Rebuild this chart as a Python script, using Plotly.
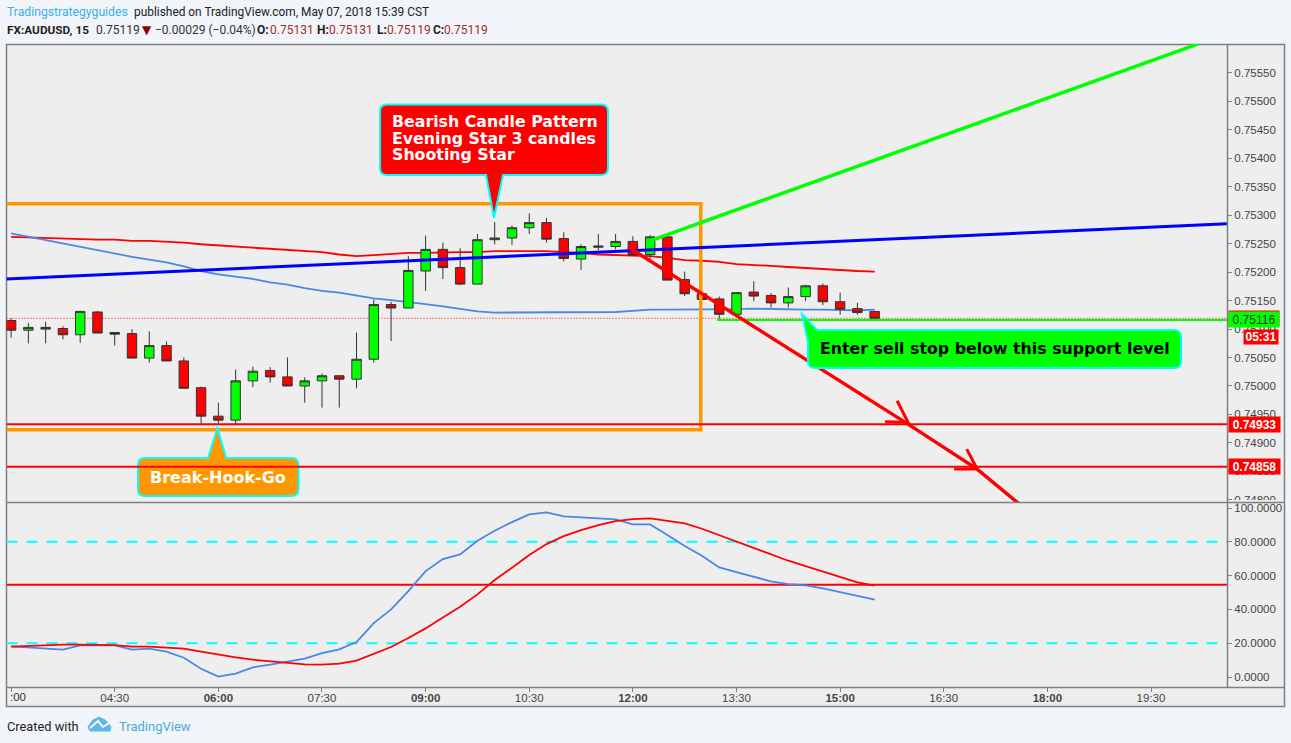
import plotly.graph_objects as go

W, H = 1291, 743

# ---------- data ----------
bar_minutes = [180 + 15 * i for i in range(51)]
opens = [.75115,.75098,.75103,.75101,.75090,.75130,.75094,.75092,.75049,.75071,
         .75044,.74997,.74947,.74940,.75009,.75027,.75016,.75000,.75009,.75018,
         .75012,.75047,.75143,.75137,.75202,.75240,.75208,.75179,.75257,.75260,
         .75278,.75287,.75259,.75223,.75246,.75245,.75254,.75231,.75262,.75187,
         .75162,.75153,.75126,.75165,.75159,.75146,.75157,.75176,.75148,.75136,.75131]
highs = [.75119,.75111,.75113,.75105,.75132,.75132,.75094,.75100,.75096,.75078,
         .75050,.74999,.74971,.75029,.75034,.75033,.75050,.75015,.75022,.75019,
         .75094,.75152,.75148,.75228,.75264,.75252,.75242,.75267,.75288,.75282,
         .75303,.75295,.75270,.75249,.75267,.75267,.75263,.75265,.75264,.75201,
         .75163,.75157,.75164,.75184,.75163,.75173,.75178,.75180,.75164,.75146,.75131]
lows = [.75085,.75075,.75075,.75082,.75076,.75093,.75071,.75049,.75041,.75044,
        .74996,.74933,.74934,.74933,.74998,.75006,.75000,.74971,.74962,.74962,
        .74996,.75041,.75079,.75137,.75167,.75188,.75177,.75179,.75249,.75248,
        .75267,.75252,.75219,.75204,.75238,.75240,.75230,.75221,.75186,.75158,
        .75152,.75118,.75125,.75149,.75138,.75138,.75149,.75142,.75125,.75125,.75119]
closes = [.75098,.75103,.75100,.75090,.75131,.75093,.75091,.75049,.75071,.75044,
          .74996,.74947,.74940,.75009,.75026,.75016,.75000,.75009,.75018,.75012,
          .75047,.75143,.75137,.75203,.75240,.75208,.75179,.75257,.75260,.75278,
          .75287,.75258,.75224,.75245,.75244,.75254,.75230,.75262,.75186,.75162,
          .75152,.75126,.75164,.75158,.75146,.75157,.75176,.75148,.75135,.75129,.75119]
ema_red = [.75262,.75261,.75259,.75259,.75258,.75257,.75257,.75255,.75255,.75254,
           .75252,.75249,.75247,.75245,.75243,.75241,.75240,.75238,.75235,.75231,
           .75228,.75230,.75232,.75234,.75234,.75235,.75235,.75235,.75237,.75237,
           .75237,.75237,.75235,.75234,.75231,.75230,.75229,.75228,.75225,.75221,
           .75220,.75218,.75214,.75213,.75211,.75209,.75207,.75206,.75204,.75202,.75201]
ema_blue = [.75268,.75262,.75257,.75251,.75245,.75239,.75233,.75227,.75222,.75217,
            .75210,.75202,.75196,.75192,.75188,.75182,.75178,.75172,.75167,.75164,
            .75159,.75154,.75151,.75148,.75144,.75140,.75135,.75131,.75129,.75129,
            .75129,.75129,.75129,.75129,.75129,.75130,.75132,.75134,.75134,.75134,
            .75134,.75134,.75135,.75136,.75135,.75134,.75134,.75134,.75133,.75133,.75134]
stoch_blue = [18.14,17.35,16.76,16.17,18.73,18.93,18.73,16.17,16.76,14.99,11.44,4.93,0.20,
              1.97,5.72,7.29,8.87,10.84,14.20,16.37,20.70,31.95,40.04,50.88,62.72,69.82,
              72.58,80.67,86.58,91.71,96.25,97.43,95.07,94.47,94.08,93.29,90.33,90.33,
              84.02,77.51,71.79,64.89,62.13,59.56,56.60,55.03,54.24,52.46,50.29,48.12,45.76]
stoch_red = [17.94,18.34,18.93,19.13,19.13,19.13,18.93,17.94,17.94,17.35,16.76,14.99,13.21,
             11.63,10.25,9.27,8.28,7.49,7.29,7.89,9.66,13.61,17.75,23.07,28.79,35.30,
             41.61,48.91,57.39,64.69,72.19,78.69,83.43,86.98,89.94,92.30,93.49,93.88,
             92.50,90.92,87.77,84.02,80.27,76.72,72.78,68.83,65.68,62.52,59.56,56.01,54.04]
price_ticks = [.748,.7485,.749,.7495,.75,.7505,.751,.7515,.752,.7525,.753,.7535,.754,.7545,.755,.7555]
stoch_ticks = [0, 20, 40, 60, 80, 100]
time_tickvals = [180,270,360,450,540,630,720,810,900,990,1080,1170]
time_ticktext = ["","04:30","<b>06:00</b>","07:30","<b>09:00</b>","10:30",
                 "<b>12:00</b>","13:30","<b>15:00</b>","16:30","<b>18:00</b>","19:30"]
level_support_1 = 0.74933
level_support_2 = 0.74858
level_green = 0.75116
level_last = 0.75119
stoch_level_hi, stoch_level_mid, stoch_level_lo = 80, 54.6, 20
box_times = [176, 779, 779, 176]
box_prices = [0.75320, 0.75320, 0.74923, 0.74923]
blue_trend_t, blue_trend_p = [176, 1236], [0.75188, 0.75285]
green_trend_t, green_trend_p = [735, 1211], [0.75255, 0.75601]
red_trend_t, red_trend_p = [716, 959, 1019, 1062], [0.75244, 0.74933, 0.74854, 0.74782]
arrow1_t, arrow1_p = [939, 959, 949.5], [0.74937, 0.74936, 0.74974]
arrow2_t, arrow2_p = [999, 1019, 1010], [0.74854, 0.74854, 0.74889]
green_seg_t = [793, 1236]

X_RANGE = [176, 1236]
Y_RANGE = [0.747962, 0.756008]
S_RANGE = [-5.9, 103]
PAGE = "#f1f5f9"; PANE = "#eeeeee"; FRAME = "#808080"
ORANGE = "#ff9800"; CYAN = "#00ffff"; LBLUE = "#4a86e8"

def px(x): return x / W
def py(y): return 1 - y / H

fig = go.Figure()

# EMA lines, below the candles
fig.add_trace(go.Scatter(x=bar_minutes, y=ema_red, mode="lines", line=dict(color="#ff0000", width=1.8), xaxis="x", yaxis="y"))
fig.add_trace(go.Scatter(x=bar_minutes, y=ema_blue, mode="lines", line=dict(color=LBLUE, width=1.8), xaxis="x", yaxis="y"))
fig.add_trace(go.Scatter(x=X_RANGE, y=[level_last, level_last], mode="lines",
                         line=dict(color="#ff0000", width=1, dash="1px,2px"), xaxis="x", yaxis="y"))

# candles
fig.add_trace(go.Candlestick(x=bar_minutes, open=opens, high=highs, low=lows, close=closes,
                             increasing=dict(fillcolor="#00ff00", line=dict(color="#333333", width=1)),
                             decreasing=dict(fillcolor="#ff0000", line=dict(color="#333333", width=1)),
                             whiskerwidth=0, xaxis="x", yaxis="y3"))

# drawings
d = dict(xaxis="x", yaxis="y4", mode="lines")
fig.add_trace(go.Scatter(x=box_times, y=box_prices, line=dict(color=ORANGE, width=3.5), **d))
fig.add_trace(go.Scatter(x=X_RANGE, y=[level_support_1]*2, line=dict(color="#ff0000", width=2), **d))
fig.add_trace(go.Scatter(x=green_seg_t, y=[level_green]*2, line=dict(color="#00ff00", width=2), **d))
fig.add_trace(go.Scatter(x=blue_trend_t, y=blue_trend_p, line=dict(color="#0000ff", width=3), **d))
fig.add_trace(go.Scatter(x=green_trend_t, y=green_trend_p, line=dict(color="#00ff00", width=3.5), **d))
fig.add_trace(go.Scatter(x=red_trend_t, y=red_trend_p, line=dict(color="#ff0000", width=3.5), **d))
fig.add_trace(go.Scatter(x=arrow1_t, y=arrow1_p, line=dict(color="#ff0000", width=3), **d))
fig.add_trace(go.Scatter(x=arrow2_t, y=arrow2_p, line=dict(color="#ff0000", width=3), **d))

# stochastic pane
s = dict(xaxis="x2", yaxis="y2", mode="lines")
fig.add_trace(go.Scatter(x=X_RANGE, y=[stoch_level_hi]*2, line=dict(color=CYAN, width=2, dash="11px,9px"), **s))
fig.add_trace(go.Scatter(x=X_RANGE, y=[stoch_level_lo]*2, line=dict(color=CYAN, width=2, dash="11px,9px"), **s))
fig.add_trace(go.Scatter(x=X_RANGE, y=[stoch_level_mid]*2, line=dict(color="#ff0000", width=2), **s))
fig.add_trace(go.Scatter(x=bar_minutes, y=stoch_blue, line=dict(color=LBLUE, width=1.8), **s))
fig.add_trace(go.Scatter(x=bar_minutes, y=stoch_red, line=dict(color="#ff0000", width=1.8), **s))

tickfont = dict(family="Liberation Sans", size=11.5, color="#444444")
pd_top = [py(502), py(44)]
pd_bot = [py(687), py(503)]
dx = [px(6.5), px(1227)]
fig.update_layout(
    width=W, height=H, autosize=False, showlegend=False, hovermode=False,
    paper_bgcolor=PAGE, plot_bgcolor=PANE,
    margin=dict(l=0, r=0, t=0, b=0, autoexpand=False), boxgap=0.22,
    xaxis=dict(domain=dx, range=X_RANGE, anchor="y", showticklabels=False, ticks="", showgrid=False,
               zeroline=False, rangeslider=dict(visible=False)),
    xaxis2=dict(domain=dx, range=X_RANGE, anchor="y2", matches="x", tickmode="array", tickvals=time_tickvals,
                ticktext=time_ticktext, ticks="outside", ticklen=4, tickcolor=FRAME, tickfont=tickfont,
                ticklabelstandoff=-4, showgrid=False, zeroline=False, showline=False),
    yaxis=dict(domain=pd_top, range=Y_RANGE, side="right", anchor="x", tickmode="array", tickvals=price_ticks,
               tickformat=".5f", ticks="outside", ticklen=4, tickcolor=FRAME, tickfont=tickfont,
               showgrid=False, zeroline=False),
    yaxis3=dict(domain=pd_top, range=Y_RANGE, overlaying="y", anchor="x", visible=False),
    yaxis4=dict(domain=pd_top, range=Y_RANGE, overlaying="y", anchor="x", visible=False),
    yaxis2=dict(domain=pd_bot, range=S_RANGE, side="right", anchor="x2", tickmode="array", tickvals=stoch_ticks,
                tickformat=".4f", ticks="outside", ticklen=4, tickcolor=FRAME, tickfont=tickfont,
                showgrid=False, zeroline=False),
)

shapes = []
def prect(x0, y0, x1, y1, fill=None, line=None, lw=1, layer="below"):
    shapes.append(dict(type="rect", xref="paper", yref="paper", x0=px(x0), x1=px(x1), y0=py(y0), y1=py(y1),
                       fillcolor=fill, line=dict(color=line, width=lw if line else 0), layer=layer))

prect(6.5, 44.5, 1284.5, 706.5, fill=PANE, line=FRAME, lw=1.5)
prect(1228, 500, 1283.5, 503.7, fill=PANE, layer="above")   # clips 0.74800 at pane edge
for (a, b, c, e) in [(6.5, 502.5, 1284.5, 502.5), (6.5, 687.5, 1284.5, 687.5), (1227.5, 44.5, 1227.5, 687.5)]:
    shapes.append(dict(type="line", xref="paper", yref="paper", x0=px(a), y0=py(b), x1=px(c), y1=py(e),
                       line=dict(color=FRAME, width=1.5), layer="above"))

def P(x, y): return f"{px(x):.5f} {py(y):.5f}"

def callout(x0, y0, x1, y1, fill, side, tip, a, b):
    r = 7
    t = f"M {P(x0 + r, y0)} "
    if side == "top":
        t += f"L {P(a, y0)} L {P(*tip)} L {P(b, y0)} "
    if side == "left":
        t = f"M {P(a, y0)} "
    t += f"L {P(x1 - r, y0)} Q {P(x1, y0)} {P(x1, y0 + r)} L {P(x1, y1 - r)} Q {P(x1, y1)} {P(x1 - r, y1)} "
    if side == "bottom":
        t += f"L {P(b, y1)} L {P(*tip)} L {P(a, y1)} "
    t += f"L {P(x0 + r, y1)} Q {P(x0, y1)} {P(x0, y1 - r)} "
    if side == "left":
        t += f"L {P(x0, b)} L {P(*tip)} Z"
    else:
        t += f"L {P(x0, y0 + r)} Q {P(x0, y0)} {P(x0 + r, y0)} Z"
    shapes.append(dict(type="path", xref="paper", yref="paper", path=t, fillcolor=fill,
                       line=dict(color=CYAN, width=2), layer="above"))

callout(380, 104.5, 608, 175, "#ff0000", "bottom", (494, 218), 486, 503)
callout(138, 458, 298.5, 496, ORANGE, "top", (217.5, 428), 208, 226)
callout(808, 330, 1181, 368, "#00ff00", "left", (802, 314), 817, 342)

# the lower support line runs over the orange label
shapes.append(dict(type="line", xref="x", yref="y", x0=X_RANGE[0], x1=X_RANGE[1], y0=level_support_2, y1=level_support_2,
                   line=dict(color="#ff0000", width=2), layer="above"))

# footer icon
cloud = [(88,727),(93,720),(99,717),(105,720),(108,723),(111,727),(110,731),(90,731)]
zig = [(90,728),(98,721),(103,727),(109,723)]
shapes.append(dict(type="path", xref="paper", yref="paper",
                   path="M " + " L ".join(P(x, y) for x, y in cloud) + " Z",
                   fillcolor="#5bb8e8", line=dict(color="#5bb8e8", width=1), layer="above"))
shapes.append(dict(type="path", xref="paper", yref="paper",
                   path="M " + " L ".join(P(x, y) for x, y in zig),
                   line=dict(color=PAGE, width=2), layer="above"))
fig.update_layout(shapes=shapes)

ann = []
def text(x, y, t, family="Roboto", size=12, color="#222222", anchor="left"):
    ann.append(dict(xref="paper", yref="paper", x=px(x), y=py(y), text=t, showarrow=False, xanchor=anchor,
                    yanchor="middle", font=dict(family=family, size=size, color=color), borderpad=0, align="left"))

text(6, 12, "Tradingstrategyguides", color="#3bb0e6", size=12.2)
text(133, 12, "published on TradingView.com, May 07, 2018 15:39 CST", size=11.9)
text(6, 30, "<b>FX:AUDUSD, 15</b>", size=11.8)
text(95, 30, "0.75119", color="#333333", size=12)
text(141, 30, "▼", family="DejaVu Sans", color="#8b0000", size=12)
text(154, 30, "−0.00029 (−0.04%)", color="#333333", size=12)
for xl, l in [(256, "O:"), (316, "H:"), (376, "L:"), (432, "C:")]:
    text(xl, 30, f"<b>{l}</b>", size=12)
for xv in (269, 328):
    text(xv, 30, "0.75131", color="#a52a2a", size=12)
for xv in (386, 443):
    text(xv, 30, "0.75119", color="#a52a2a", size=12)
text(6, 726, "Created with", size=12.8)
text(118, 726, "TradingView", color="#4aa8dc", size=13)
text(8.5, 697, ":00", family="Liberation Sans", size=11.5, color="#333333")

B = "DejaVu Sans"
for y, t in [(122, "Bearish Candle Pattern"), (138, "Evening Star 3 candles"), (154, "Shooting Star")]:
    text(391, y, f"<b>{t}</b>", family=B, size=15.8, color="#ffffff")
text(149, 477, "<b>Break-Hook-Go</b>", family=B, size=16, color="#ffffff")
text(819, 348, "<b>Enter sell stop below this support level</b>", family=B, size=15.8, color="#000000")

def tag(val, x0, w, t, bg, fc):
    ann.append(dict(xref="paper", yref="y", x=px(x0), y=val, xanchor="left", yanchor="middle", text=t,
                    showarrow=False, width=w, height=15, bgcolor=bg, borderpad=0, align="center",
                    font=dict(family="Liberation Sans", size=12, color=fc)))

tag(level_support_1, 1228, 51, "<b>0.74933</b>", "#ff0000", "#ffffff")
tag(level_support_2, 1228, 51, "<b>0.74858</b>", "#ff0000", "#ffffff")
tag(level_last, 1228, 50, " ", "#ff0000", "#ffffff")
tag(level_green, 1228, 50, "0.75116", "#00ff00", "#333333")
ann.append(dict(xref="paper", yref="paper", x=px(1243), y=py(337), xanchor="left", yanchor="middle", text="<b>05:31</b>",
                showarrow=False, width=34, height=14, bgcolor="#ff0000", borderpad=0,
                font=dict(family="Liberation Sans", size=12, color="#ffffff")))
fig.update_layout(annotations=ann)

fig.write_html("out.html", config=dict(displayModeBar=False),
               post_script="document.body.style.margin='0';document.documentElement.style.overflow='hidden';")
